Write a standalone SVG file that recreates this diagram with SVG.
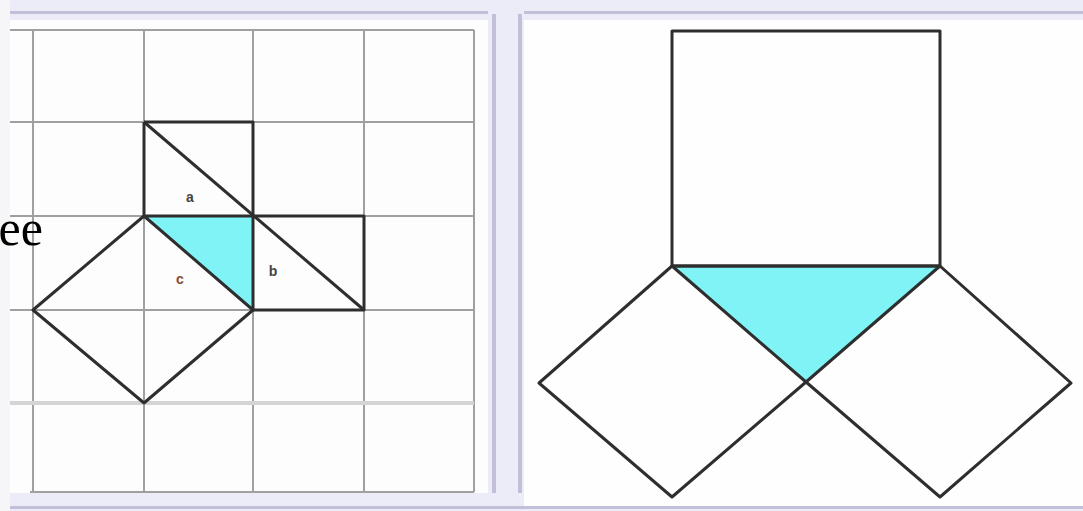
<svg xmlns="http://www.w3.org/2000/svg" width="1083" height="511" viewBox="0 0 1083 511">
<style>
.grid{stroke:#a0a0a0;stroke-width:2;fill:none}
.grid2{stroke:#d4d4d4;stroke-width:4;fill:none}
.edge{stroke:#2e2e2e;stroke-width:3;fill:none;stroke-linejoin:round}
.cyan{fill:#80f3f6}
.lab{font-family:"Liberation Sans",Arial,sans-serif;font-size:14px;font-weight:bold;text-anchor:middle}
.band{fill:#ecebf8}
.bline{fill:#c2c0d8}
.ee{font-family:"Liberation Serif","Times New Roman",serif;font-size:50px;fill:#000;text-anchor:end}
</style>
<rect x="0" y="0" width="1083" height="511" fill="#ffffff"/>
<rect x="0" y="0" width="10" height="511" fill="#f6f6f9"/>
<!-- frame bands -->
<rect class="band" x="10" y="0" width="1073" height="20"/>
<rect class="bline" x="10" y="11" width="1073" height="3"/>
<rect class="band" x="488" y="0" width="36" height="511"/>
<rect class="bline" x="492" y="14" width="4" height="497"/>
<rect class="bline" x="518" y="14" width="4" height="497"/>
<rect class="band" x="10" y="493" width="1073" height="18"/>
<rect class="bline" x="10" y="506" width="1073" height="3"/>
<rect x="10" y="20" width="478" height="473" fill="#fdfdfd"/>
<rect x="524" y="20" width="559" height="486" fill="#fefefe"/>
<!-- left grid -->
<g id="grid">
<path class="grid" d="M33 30V492M144 30V492M253 30V492M364 30V492M474 30V492"/>
<path class="grid" d="M10 30H474M10 122H474M10 216H474M10 310H474M30 492H474"/>
<path class="grid2" d="M10 403H474"/>
</g>
<text class="ee" x="43" y="245">ee</text>
<!-- left figure -->
<g id="left-triangle"><polygon class="cyan" points="144,216 253,216 253,310"/></g>
<g id="left-figure">
<path class="edge" d="M144 122H253V216M144 122V216"/>
<path class="edge" d="M144 122L364 310"/>
<path class="edge" d="M253 216H364V310H253"/>
<path class="edge" d="M144 216H253V310Z"/>
<path class="edge" d="M144 216L33 310L144 403L253 310"/>
</g>
<g id="labels">
<text class="lab" x="190" y="202" fill="#444">a</text>
<text class="lab" x="180" y="284" fill="#8a4a3a">c</text>
<text class="lab" x="273" y="276" fill="#444">b</text>
</g>
<!-- right figure -->
<g id="right-triangle"><polygon class="cyan" points="672,266 940,266 806,382"/></g>
<g id="right-figure">
<rect class="edge" x="672" y="31" width="268" height="235"/>
<path class="edge" d="M672 266L806 382L672 497L539 383Z"/>
<path class="edge" d="M940 266L1071 383L940 497L806 382Z"/>
<path class="edge" d="M672 266H940" stroke-width="4" stroke="#3a4a4a"/>
</g>
</svg>
